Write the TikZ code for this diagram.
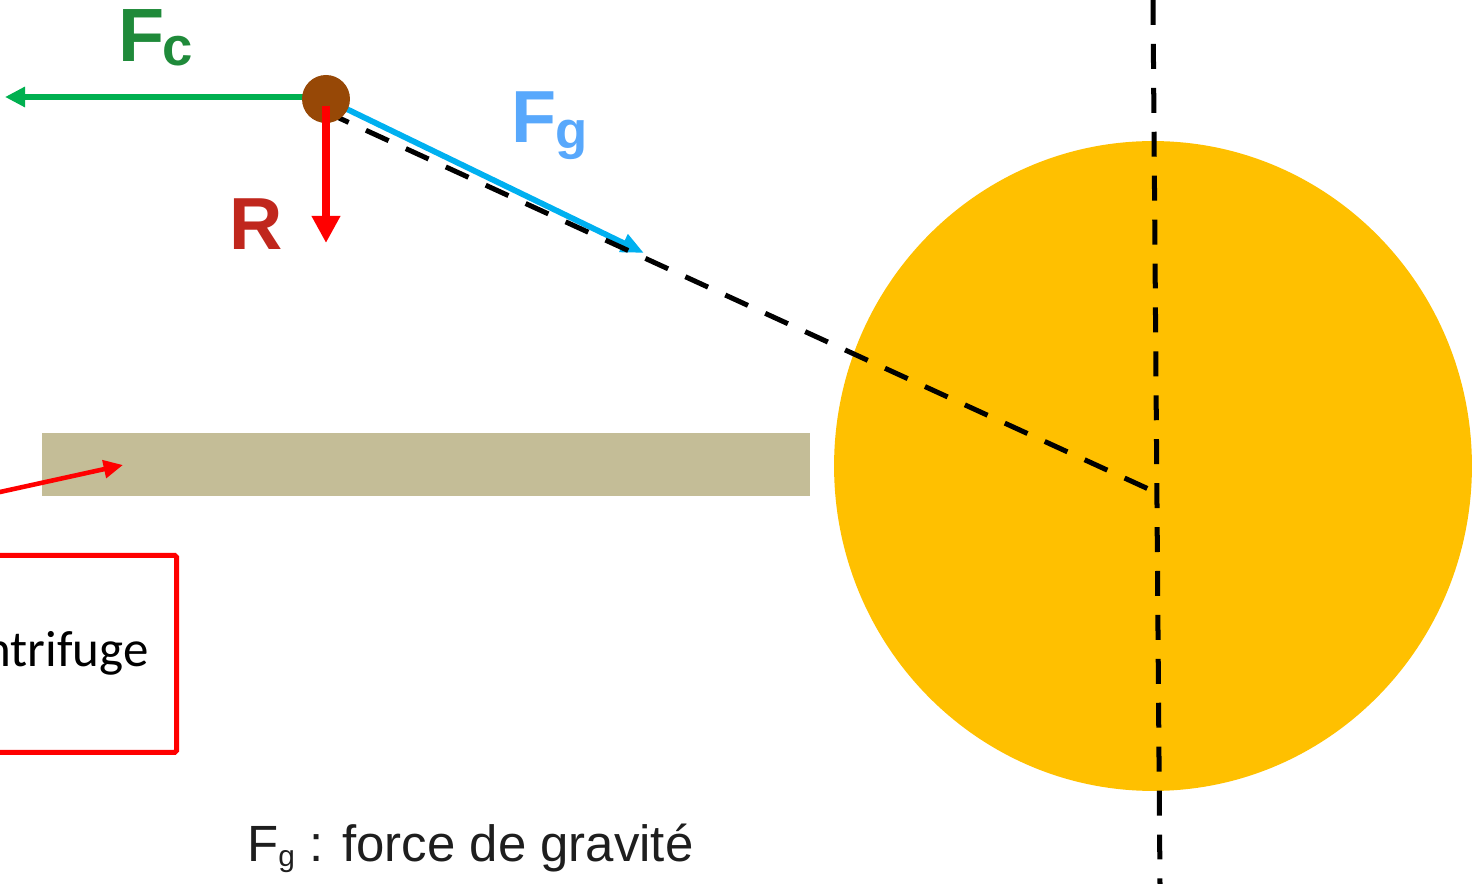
\documentclass[tikz,border=0pt]{standalone}
\usepackage{fontspec}
\setmainfont{Liberation Sans}
\newfontfamily\calib{Carlito}
\usetikzlibrary{arrows.meta,shapes.geometric}
\definecolor{fcgreen}{RGB}{0,176,80}
\definecolor{fctext}{RGB}{31,138,58}
\definecolor{rtext}{RGB}{192,39,29}
\definecolor{fgblue}{RGB}{0,176,240}
\definecolor{fgtext}{RGB}{88,168,252}
\definecolor{sunyellow}{RGB}{255,192,0}
\definecolor{bartan}{RGB}{196,189,151}
\definecolor{ballbrown}{RGB}{151,72,6}
\definecolor{bottomtext}{RGB}{30,30,30}
\tikzset{
  dashline/.style={black, line width=2.85pt, dash pattern=on 14.2pt off 10.8pt},
  forcelbl/.style={inner sep=0pt, anchor=base west, font=\bfseries},
}
\begin{document}
\begin{tikzpicture}[x=0.02cm,y=-0.02cm]
\useasboundingbox (0,0) rectangle (1472,884);
% sun
\node (sun) [ellipse, fill=sunyellow, minimum width=12.76cm, minimum height=13cm, inner sep=0pt] at (1153,466) {};
% bar
\node (bar) [fill=bartan, anchor=north west, minimum width=15.36cm, minimum height=1.25cm, inner sep=0pt] at (42,433) {};
% coordinates
\coordinate (fcstart) at (326,97);
\coordinate (fcend) at (5,97);
\coordinate (fgstart) at (326,99);
\coordinate (fgend) at (644,253);
\coordinate (dstart) at (326,112);
\coordinate (dend) at (1155,492);
\coordinate (vtop) at (1153,0);
\coordinate (vbot) at (1160,884);
\coordinate (rstart) at (326,106);
\coordinate (rend) at (326,243);
\coordinate (pstart) at (-20,496.4);
\coordinate (pend) at (123,465);
% dashed lines
\draw[dashline] (vtop) -- (vbot);
% forces
\draw[fcgreen, line width=3.3pt, -{Triangle[length=11.4pt,width=11pt]}] (fcstart) -- (fcend);
\draw[fgblue, line width=3.3pt, -{Triangle[length=13pt,width=10.5pt]}] (fgstart) -- (fgend);
\draw[dashline] (dstart) -- (dend);
\node (ball) [circle, fill=ballbrown, minimum size=0.96cm, inner sep=0pt] at (326,99) {};
\draw[red, line width=4pt, -{Triangle[length=15.4pt,width=15.4pt]}] (rstart) -- (rend);
% labels
\node (fcF) [forcelbl, text=fctext, font=\bfseries\fontsize{43}{43}\selectfont] at (118,62) {F};
\node (fcc) [forcelbl, text=fctext, font=\bfseries\fontsize{31}{31}\selectfont] at (162,66) {c};
\node (fgF) [forcelbl, text=fgtext, font=\bfseries\fontsize{42}{42}\selectfont] at (511,143) {F};
\node (fgg) [forcelbl, text=fgtext, font=\bfseries\fontsize{30}{30}\selectfont] at (555,149) {g};
\node (rlbl) [forcelbl, text=rtext, font=\bfseries\fontsize{42}{42}\selectfont] at (229,250) {R};
% pointer and box
\draw[red, line width=2.6pt, -{Triangle[length=11pt,width=10pt]}] (pstart) -- (pend);
\node (box) [draw=red, line width=2.8pt, rounded corners=1pt, anchor=north east, minimum width=5cm, minimum height=3.94cm, inner sep=0pt] at (179,553) {};
\node (boxtext) [anchor=base east, inner sep=0pt, font=\calib\fontsize{29}{32}\selectfont] at (149,667) {ntrifuge};
% bottom legend
\node (legend) [anchor=base west, inner sep=0pt, text=bottomtext, font=\fontsize{29}{32}\selectfont] at (247,862) {F\raisebox{-2.8pt}{\fontsize{17}{19}\selectfont g} : force de gravité};
\end{tikzpicture}
\end{document}
